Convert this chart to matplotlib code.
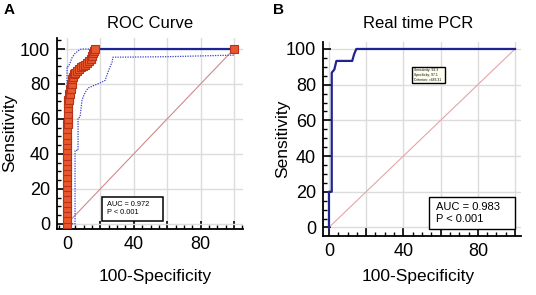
import matplotlib
matplotlib.use("Agg")
import matplotlib.pyplot as plt
from matplotlib.patches import Rectangle
from matplotlib.ticker import FixedLocator, MultipleLocator, FixedFormatter

plt.rcParams["font.family"] = ["Liberation Sans", "DejaVu Sans"]

# ---- panel A: ROC curve ----
a_fpr = [0, 0, 0, 0, 0, 0, 0, 0, 0, 0, 0, 0, 0, 0, 0, 0, 0, 0, 0, 0,
         0.6, 0.6, 0.6, 0.6, 0.6, 0.6, 1.2, 1.2, 1.8, 1.8, 2.4, 2.4, 3.0, 3.0,
         3.6, 4.2, 4.8, 6.0, 7.2, 8.4, 9.6, 10.8, 12.0, 13.2, 14.4, 15.0, 15.6,
         16.2, 16.5, 100]
a_sens = [0, 3, 6, 9, 12, 15, 18, 21, 24, 27, 30, 33, 36, 39, 42, 45, 48, 51, 54, 57,
          57, 60, 63, 66, 69, 71, 71, 74, 74, 77, 77, 80, 80, 83,
          84, 85.5, 86.5, 87.5, 88.5, 89.5, 90, 91, 92, 93, 94.5, 96, 97.5,
          99, 100, 100]
a_ci_up_x = [0, 0, 0.8, 1.8, 2.8, 4.8, 7.8, 10, 100]
a_ci_up_y = [0, 90, 90, 91.8, 94.7, 97.5, 99.8, 100, 100]
a_ci_lo_x = [0, 4.8, 4.8, 6.6, 6.6, 7.8, 9.0, 10.8, 12.6, 16.8, 19.8, 22.8, 24.6,
             27.0, 27.5, 60, 100, 100]
a_ci_lo_y = [0, 0, 42, 42, 60.5, 61, 71, 75, 77.7, 79.4, 80.6, 82, 87,
             92.6, 95.3, 95.6, 96.5, 100]
a_auc = "AUC = 0.972\nP < 0.001"

# ---- panel B: real time PCR ----
b_fpr = [0, 0, 1.5, 1.5, 2.9, 4.0, 12.5, 13.5, 14.7, 100]
b_sens = [0, 20, 20, 86.7, 88.5, 93.3, 93.3, 97, 100, 100]
b_auc = "AUC = 0.983\nP < 0.001"
b_tip = "Sensitivity: 93.3\nSpecificity: 97.1\nCriterion: >483.31"

major = [0, 20, 40, 60, 80, 100]
x_labels = ["0", "", "40", "", "80", ""]
y_labels = ["0", "20", "40", "60", "80", "100"]

NAVY = "#1f2590"
GRID = "#dcdcdc"

W, H = 536, 295
fig = plt.figure(figsize=(W / 100, H / 100), dpi=100)


def px_axes(l, t, r, b):
    return fig.add_axes([l / W, 1 - b / H, (r - l) / W, (b - t) / H])


def style(ax):
    for s in ("top", "right"):
        ax.spines[s].set_visible(False)
    for s in ("left", "bottom"):
        ax.spines[s].set_linewidth(1.3)
    ax.xaxis.set_major_locator(FixedLocator(major))
    ax.xaxis.set_major_formatter(FixedFormatter(x_labels))
    ax.yaxis.set_major_locator(FixedLocator(major))
    ax.yaxis.set_major_formatter(FixedFormatter(y_labels))
    ax.xaxis.set_minor_locator(MultipleLocator(5))
    ax.yaxis.set_minor_locator(MultipleLocator(5))
    ax.tick_params(which="major", direction="in", length=6, width=1.2, labelsize=13, pad=5)
    ax.tick_params(which="minor", direction="in", length=3, width=1.0)
    ax.grid(True, which="major", color=GRID, lw=1.0, zorder=0)
    ax.set_axisbelow(True)


# ---------- A ----------
axA = px_axes(57, 38, 243, 229)
axA.set_xlim(-6, 105.4)
axA.set_ylim(-3, 106.3)
style(axA)
axA.plot([0, 100], [0, 100], color="#cf8a8a", lw=0.8, zorder=1)
axA.plot(a_ci_up_x, a_ci_up_y, color="#3545c8", lw=0.9, ls=(0, (1, 1)), zorder=2)
axA.plot(a_ci_lo_x, a_ci_lo_y, color="#3545c8", lw=0.9, ls=(0, (1, 1)), zorder=2)
axA.plot(a_fpr, a_sens, color=NAVY, lw=1.6, marker="s", ms=6.3,
         mfc="#e9582a", mec="#b8321e", mew=0.8, zorder=3, clip_on=False)
axA.add_patch(Rectangle((21.0, 1.7), 36.5, 13.7, fill=True, fc="white",
                        ec="black", lw=1.1, zorder=4))
axA.text(24, 8.8, a_auc, fontsize=5.3, va="center", ha="left", linespacing=1.3, zorder=5)

# ---------- B ----------
axB = px_axes(323, 42, 521, 236)
axB.set_xlim(-3.2, 103.2)
axB.set_ylim(-4.8, 103.9)
style(axB)
axB.plot([0, 100], [0, 100], color="#e3a6a6", lw=0.8, zorder=1)
axB.plot(b_fpr, b_sens, color=NAVY, lw=1.6, zorder=3, clip_on=False)
axB.add_patch(Rectangle((53.8, -0.8), 46.2, 17.9, fill=True, fc="white",
                        ec="black", lw=1.0, zorder=4))
axB.text(57.5, 8.2, b_auc, fontsize=8, va="center", ha="left", linespacing=1.2, zorder=5)
axB.add_patch(Rectangle((44.6, 81), 17.8, 8.9, fill=True, fc="#fffff0",
                        ec="black", lw=1.0, zorder=4))
axB.text(45.6, 85.4, b_tip, fontsize=2.4, va="center", ha="left", linespacing=1.2, zorder=5)

# ---------- labels ----------
fig.text(4 / W, 1 - 10 / H, "A", fontsize=11, fontweight="bold", va="center", ha="left")
fig.text(273 / W, 1 - 10 / H, "B", fontsize=11, fontweight="bold", va="center", ha="left")
fig.text(150 / W, 1 - 23 / H, "ROC Curve", fontsize=12, va="center", ha="center")
fig.text(418 / W, 1 - 23 / H, "Real time PCR", fontsize=12, va="center", ha="center")
fig.text(155 / W, 1 - 277 / H, "100-Specificity", fontsize=12.5, va="center", ha="center")
fig.text(418 / W, 1 - 277 / H, "100-Specificity", fontsize=12.5, va="center", ha="center")
fig.text(10 / W, 1 - 133 / H, "Sensitivity", fontsize=12.5, va="center", ha="center",
         rotation=90)
fig.text(283 / W, 1 - 139 / H, "Sensitivity", fontsize=12.5, va="center", ha="center",
         rotation=90)

fig.savefig("out.png", dpi=100, facecolor="white")
